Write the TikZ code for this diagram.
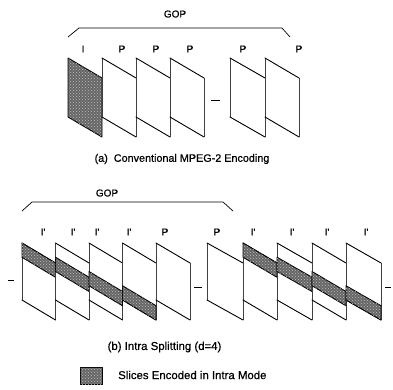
\documentclass[tikz,border=0pt]{standalone}
\usepackage{fontspec}
\setmainfont[FakeBold=0.6]{Liberation Sans}
\newfontfamily\boldishfont[FakeBold=0.6]{Liberation Sans}
\usetikzlibrary{patterns}
\tikzset{
  frm/.style={fill=white},
  diag/.style={line width=0.9pt, line cap=round},
  vert/.style={line width=0.5pt, draw=black!75},
  intra/.style={draw=black, line width=0.9pt, fill=black!60, line join=round,
    postaction={pattern=crosshatch dots, pattern color=white!75!black}},
  lbl/.style={font=\boldishfont\fontsize{10}{12}\selectfont, inner sep=0pt},
  captxt/.style={font=\boldishfont\fontsize{11.4}{13}\selectfont, inner sep=0pt},
  capa/.style={font=\boldishfont\fontsize{10.8}{13}\selectfont, inner sep=0pt},
  bracket/.style={line width=0.7pt},
  gapdash/.style={line width=0.6pt}
}
% frame: xl, xr, ytop, H, S
\newcommand\frmbox[5]{%
  \fill[frm] (#1,#3) -- (#2,#3+#5) -- (#2,#3+#4+#5) -- (#1,#3+#4) -- cycle;
  \draw[vert] (#1,#3) -- (#1,#3+#4);
  \draw[vert] (#2,#3+#5) -- (#2,#3+#4+#5);
  \draw[diag] (#1,#3) -- (#2,#3+#5);
  \draw[diag] (#1,#3+#4) -- (#2,#3+#4+#5);}
% slice: xl, xr, ytop, H, S, k
\newcommand\slcbox[6]{\draw[intra] (#1,{#3+(#6-1)*#4/4}) -- (#2,{#3+(#6-1)*#4/4+#5}) -- (#2,{#3+#6*#4/4+#5}) -- (#1,{#3+#6*#4/4}) -- cycle;}
\begin{document}
\begin{tikzpicture}[x=1pt,y=-1pt]
\useasboundingbox (0,0) rectangle (393,389);
% ---------- (a) ----------
\node[lbl] (gopa) at (175,14) {GOP};
\coordinate (ba1) at (68,37);
\coordinate (ba2) at (79,28);
\coordinate (ba3) at (282,28);
\coordinate (ba4) at (290,37);
\draw[bracket] (ba1) -- (ba2) -- (ba3) -- (ba4);
\node[lbl] (la1) at (83,49) {I};
\node[lbl] (la2) at (122,49) {P};
\node[lbl] (la3) at (156,49) {P};
\node[lbl] (la4) at (190,49) {P};
\node[lbl] (la5) at (243,49) {P};
\node[lbl] (la6) at (299,49) {P};
\draw[intra] (68,58) -- (102,78) -- (102,137) -- (68,117) -- cycle;
\frmbox{102}{136}{58}{59}{20}
\frmbox{136}{170}{58}{59}{20}
\frmbox{170}{204}{58}{59}{20}
\frmbox{230}{265}{58}{59}{20}
\frmbox{265}{299}{58}{59}{20}
\coordinate (da1) at (211,100);
\coordinate (da2) at (220,100);
\draw[gapdash] (da1) -- (da2);
\node[capa] (capa) at (182,159) {(a)\ \ Conventional MPEG-2 Encoding};
% ---------- (b) ----------
\node[lbl] (gopb) at (107,193) {GOP};
\coordinate (bb1) at (22,211);
\coordinate (bb2) at (32,202);
\coordinate (bb3) at (223,202);
\coordinate (bb4) at (233,211);
\draw[bracket] (bb1) -- (bb2) -- (bb3) -- (bb4);
\node[lbl] (lb1) at (43,232) {I'};
\node[lbl] (lb2) at (73,232) {I'};
\node[lbl] (lb3) at (97,232) {I'};
\node[lbl] (lb4) at (129,232) {I'};
\node[lbl] (lb5) at (165,232) {P};
\node[lbl] (lb6) at (217,232) {P};
\node[lbl] (lb7) at (253,232) {I'};
\node[lbl] (lb8) at (292,232) {I'};
\node[lbl] (lb9) at (327,232) {I'};
\node[lbl] (lb10) at (366,232) {I'};
\frmbox{22}{55.5}{243}{57}{20}\slcbox{22}{55.5}{243}{57}{20}{1}
\frmbox{55.5}{89}{243}{57}{20}\slcbox{55.5}{89}{243}{57}{20}{2}
\frmbox{89}{122.5}{243}{57}{20}\slcbox{89}{122.5}{243}{57}{20}{3}
\frmbox{122.5}{156}{243}{57}{20}\slcbox{122.5}{156}{243}{57}{20}{4}
\frmbox{156}{190}{243}{57}{20}
\frmbox{207}{243}{243}{57}{20}
\frmbox{243}{277}{243}{57}{20}\slcbox{243}{277}{243}{57}{20}{1}
\frmbox{277}{312}{243}{57}{20}\slcbox{277}{312}{243}{57}{20}{2}
\frmbox{312}{346}{243}{57}{20}\slcbox{312}{346}{243}{57}{20}{3}
\frmbox{346}{381}{243}{57}{20}\slcbox{346}{381}{243}{57}{20}{4}
\coordinate (db1) at (8,280);
\coordinate (db2) at (14,280);
\draw[gapdash] (db1) -- (db2);
\coordinate (db3) at (194,287);
\coordinate (db4) at (202,287);
\draw[gapdash] (db3) -- (db4);
\coordinate (db5) at (385,287);
\coordinate (db6) at (391,287);
\draw[gapdash] (db5) -- (db6);
\node[captxt] (capb) at (164.5,347) {(b) Intra Splitting (d=4)};
% ---------- legend ----------
\draw[intra, line width=0.6pt] (80,367) rectangle (102,384);
\node[captxt, anchor=west] (leg) at (118,375) {Slices Encoded in Intra Mode};
\end{tikzpicture}
\end{document}
